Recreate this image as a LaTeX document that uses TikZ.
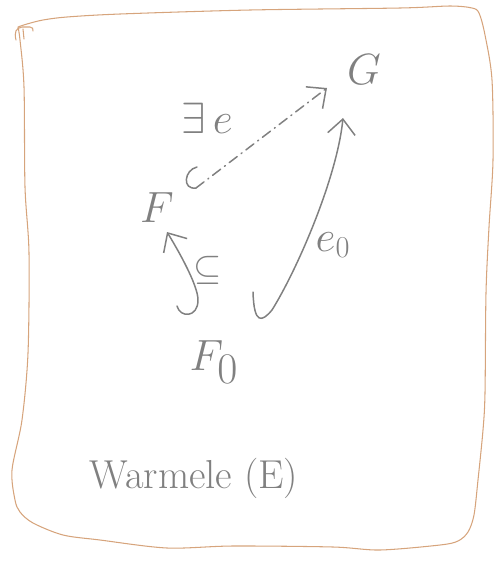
\documentclass[tikz,border=0pt]{standalone}
\usepackage{amsmath,amssymb}
\usetikzlibrary{arrows.meta,calc}
\definecolor{skgray}{RGB}{128,128,128}
\definecolor{skframe}{RGB}{214,164,124}
\newcommand{\hsz}[1]{\fontsize{#1}{#1}\selectfont}
\tikzset{
  frm/.style={skframe, line width=0.6pt, line cap=round, line join=round},
  obj/.style={text=skgray, inner sep=0pt},
  lab/.style={text=skgray, inner sep=0pt},
  hk/.style={skgray, line width=0.85pt, line cap=round, line join=round},
  incarr/.style={hk, -{Straight Barb[length=3mm,width=5.5mm]}},
  maparr/.style={hk, -{Straight Barb[length=3mm,width=5.5mm]}},
  exarr/.style={hk, -{Straight Barb[length=3mm,width=5.5mm]},
                dash pattern=on 5.7pt off 2.8pt on 0.6pt off 2.8pt},
}

\begin{document}
\begin{tikzpicture}[x=0.02cm, y=-0.02cm]
        \useasboundingbox (0,0) rectangle (494,562);
        \draw[frm] plot[smooth, tension=0.5] coordinates {(18,27) (27,24) (43,20) (67,17) (120,14) (250,10) (400,8) (450,6) (472,8) (479,13) (485,35) (492,80) (493,160) (489,227) (486,293) (485,393) (483,430) (478,480) (474,515) (468,532) (458,541) (440,545) (380,550) (333,547) (233,546) (167,548) (100,540) (63,535) (33,523) (20,512) (15,500) (12,470) (22,420) (28,353) (29,253) (25,187) (24,87) (20,40) (18,27)};
        \draw[frm] (16,40) .. controls (14,32) and (16,28) .. (22,27) -- (30,27) .. controls (33,28) .. (33,31);
        \draw[frm] (23,29) -- (24,39);
        \node[obj, font=\hsz{43}] (G) at (364,70) {$G$};
        \node[obj, font=\hsz{29}] (F) at (157,208) {$F$};
        \node[obj, font=\hsz{33}] (F0) at (214,362) {$F_0$};
        \node[lab, font=\hsz{30}] (ex) at (207,118) {$\exists\,e$};
        \node[lab, font=\hsz{20}] (sub) at (208,270) {$\subseteq$};
        \node[lab, font=\hsz{25}] (e0) at (333,245) {$e_0$};
        \node[lab, font=\hsz{23}] (cap) at (194,478) {Warmele (E)};
        \draw[incarr] ([shift={(-37,-56)}]F0.center) .. controls (180,318) and (198,318) .. (198,300)
              .. controls (198,285) and (178,250) .. ([shift={(10,24)}]F.center);
        \draw[maparr] ([shift={(39,-70)}]F0.center) .. controls (254,325) and (262,322) .. (272,310)
              .. controls (297,270) and (337,178) .. ([shift={(-21,48)}]G.center);
        \draw[hk] ([shift={(40,-41)}]F.center) .. controls (184,170) and (182,190) .. (196,188) coordinate (hE);
        \draw[exarr] (hE) -- ([shift={(-37,18)}]G.center);
      \end{tikzpicture}
\end{document}
